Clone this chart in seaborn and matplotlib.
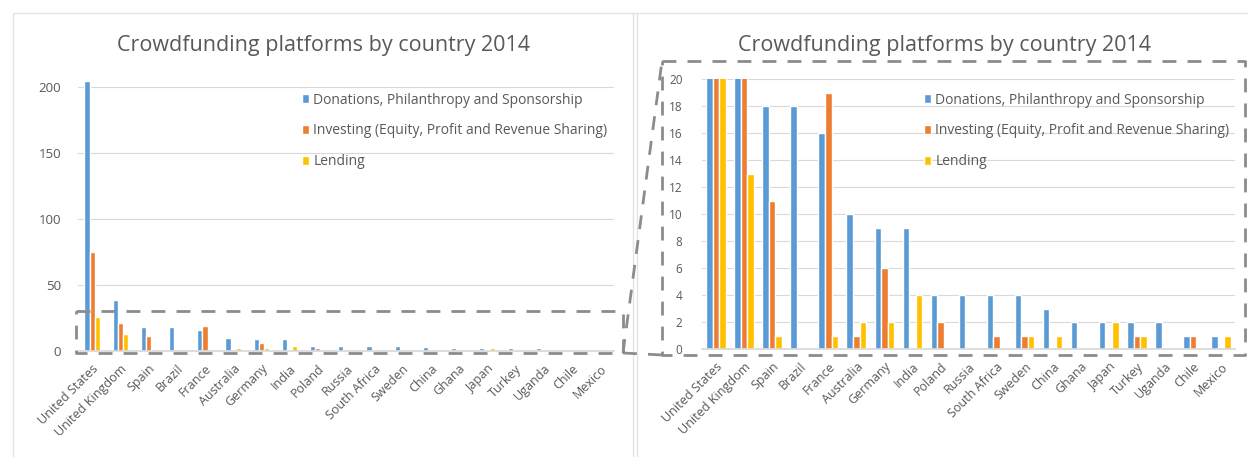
import matplotlib
matplotlib.use("Agg")
import matplotlib.pyplot as plt
from matplotlib.lines import Line2D
import seaborn as sns
import pandas as pd

countries = ["United States", "United Kingdom", "Spain", "Brazil", "France", "Australia",
             "Germany", "India", "Poland", "Russia", "South Africa", "Sweden", "China",
             "Ghana", "Japan", "Turkey", "Uganda", "Chile", "Mexico"]
donations = [205, 39, 18, 18, 16, 10, 9, 9, 4, 4, 4, 4, 3, 2, 2, 2, 2, 1, 1]
investing = [75, 21, 11, 0, 19, 1, 6, 0, 2, 0, 1, 1, 0, 0, 0, 1, 0, 1, 0]
lending = [26, 13, 1, 0, 1, 2, 2, 4, 0, 0, 0, 1, 1, 0, 2, 1, 0, 0, 1]
series_names = ["Donations, Philanthropy and Sponsorship",
                "Investing (Equity, Profit and Revenue Sharing)",
                "Lending"]
title = "Crowdfunding platforms by country 2014"
left_ticks = [0, 50, 100, 150, 200]
right_ticks = [0, 2, 4, 6, 8, 10, 12, 14, 16, 18, 20]

colors = ["#5B9BD5", "#ED7D31", "#FFC000"]

sns.set_theme(style="white")
plt.rcParams["font.family"] = ["Open Sans", "DejaVu Sans"]

rows = []
for name, vals in zip(series_names, [donations, investing, lending]):
    for c, v in zip(countries, vals):
        rows.append({"country": c, "value": v, "series": name})
df = pd.DataFrame(rows)

W, H = 1248, 457
fig = plt.figure(figsize=(W / 100, H / 100), dpi=100)
fig.patch.set_facecolor("white")

def fx(px):
    return px / W

def fy(py):
    return 1 - py / H

txt_gray = "#595959"
grid_gray = "#D9D9D9"

def style_ax(ax, ymax, ticks, ysize):
    ax.set_ylim(0, ymax)
    ax.set_xlim(-0.5, len(countries) - 0.5)
    ax.set_yticks(ticks)
    ax.set_yticklabels([str(t) for t in ticks], color=txt_gray, fontsize=ysize)
    ax.tick_params(axis="y", length=0, pad=12)
    ax.tick_params(axis="x", length=0, pad=8)
    ax.set_xticks(range(len(countries)))
    ax.set_xticklabels(countries, rotation=45, ha="right", rotation_mode="anchor",
                       color=txt_gray, fontsize=9)
    ax.yaxis.grid(True, color=grid_gray, linewidth=0.8)
    ax.set_axisbelow(True)
    for s in ["top", "right", "left"]:
        ax.spines[s].set_visible(False)
    ax.spines["bottom"].set_color(grid_gray)
    ax.set_xlabel("")
    ax.set_ylabel("")

leg_kw = dict(loc="upper left", bbox_transform=fig.transFigure, frameon=False, fontsize=10,
              labelcolor=txt_gray, handlelength=0.55, handleheight=0.55,
              handletextpad=0.3, labelspacing=1.15)

# Left panel: full range
axL = fig.add_axes([fx(78), fy(351), fx(614 - 78), (351 - 74) / H])
sns.barplot(data=df, x="country", y="value", hue="series", palette=colors,
            saturation=1, width=0.55, ax=axL, order=countries, hue_order=series_names)
style_ax(axL, 210, left_ticks, 9.5)
axL.legend(bbox_to_anchor=(fx(289), fy(80)), **leg_kw)

# Right panel: zoomed 0-20
axR = fig.add_axes([fx(702), fy(349), fx(1235 - 702), (349 - 79) / H])
sns.barplot(data=df, x="country", y="value", hue="series", palette=colors,
            saturation=1, width=0.7, ax=axR, order=countries, hue_order=series_names)
style_ax(axR, 20, right_ticks, 8.5)
axR.tick_params(axis="y", pad=14)
axR.legend(bbox_to_anchor=(fx(911), fy(80)), **leg_kw)

# Titles
fig.text(fx(323), fy(46), title, ha="center", va="center", fontsize=15.5, color=txt_gray)
fig.text(fx(945), fy(46), title, ha="center", va="center", fontsize=15.5, color=txt_gray)

# Panel frames
frame_c = "#E3E3E3"
def fline(xs, ys, **kw):
    fig.add_artist(Line2D([fx(x) for x in xs], [fy(y) for y in ys], **kw))

fline([13, 1248], [13, 13], color=frame_c, lw=1)
fline([13, 13], [13, 457], color=frame_c, lw=1)
fline([633, 633], [13, 457], color=frame_c, lw=1)
fline([637, 637], [13, 457], color=frame_c, lw=1)

# Zoom indication dashed rectangles and connectors
dash_kw = dict(color="#8C8C8C", lw=2, linestyle=(0, (5, 4)))
fline([76, 623, 623, 76, 76], [311, 311, 353, 353, 311], **dash_kw)
fline([662, 1245, 1245, 662, 662], [61, 61, 355, 355, 61], **dash_kw)
fline([623, 662], [353, 61], **dash_kw)
fline([623, 662], [353, 355], **dash_kw)

fig.savefig("out.png", dpi=100, facecolor="white")
